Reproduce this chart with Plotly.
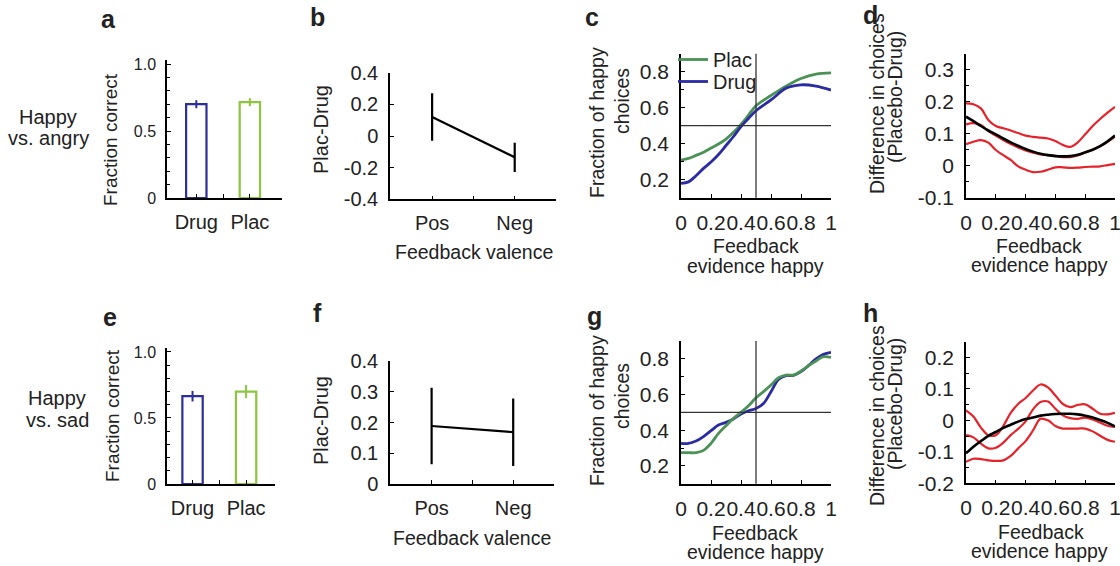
import plotly.graph_objects as go

W, H = 1120, 566
FONT = "Liberation Sans, Arial, sans-serif"

# ---------------- data ----------------
groups = ["Drug", "Plac"]
angry_correct = [0.70, 0.715]
angry_err = [0.03, 0.03]
sad_correct = [0.665, 0.70]
sad_err = [0.04, 0.05]

valence = ["Pos", "Neg"]
angry_diff = [0.12, -0.135]
angry_diff_err = [0.15, 0.093]
sad_diff = [0.189, 0.169]
sad_diff_err = [0.125, 0.11]

ev_c = [0, 0.05, 0.1, 0.15, 0.2, 0.25, 0.3, 0.35, 0.4, 0.45, 0.5, 0.6, 0.7, 0.8, 0.9, 1.0]
angry_plac = [0.309, 0.318, 0.335, 0.352, 0.376, 0.398, 0.426, 0.463, 0.507, 0.559, 0.611, 0.668, 0.72, 0.762, 0.787, 0.794]
angry_drug = [0.18, 0.188, 0.222, 0.263, 0.298, 0.34, 0.39, 0.44, 0.495, 0.54, 0.583, 0.643, 0.708, 0.727, 0.72, 0.698]

ev = [0, 0.05, 0.1, 0.15, 0.2, 0.25, 0.3, 0.35, 0.4, 0.45, 0.5,
      0.55, 0.6, 0.65, 0.7, 0.75, 0.8, 0.85, 0.9, 0.95, 1.0]
sad_drug = [0.326, 0.326, 0.339, 0.364, 0.397, 0.429, 0.444, 0.463, 0.491, 0.509, 0.522,
            0.55, 0.616, 0.685, 0.706, 0.707, 0.728, 0.762, 0.80, 0.825, 0.836]
sad_plac = [0.274, 0.274, 0.274, 0.287, 0.326, 0.382, 0.425, 0.466, 0.50, 0.537, 0.582,
            0.616, 0.653, 0.694, 0.709, 0.709, 0.732, 0.762, 0.788, 0.812, 0.808]

angry_upper = [0.195, 0.192, 0.179, 0.143, 0.124, 0.117, 0.110, 0.102, 0.094, 0.090, 0.0875,
               0.085, 0.077, 0.065, 0.059, 0.073, 0.098, 0.124, 0.146, 0.166, 0.184]
angry_mid = [0.129, 0.133, 0.127, 0.108, 0.094, 0.080, 0.068, 0.057, 0.048, 0.041, 0.035,
             0.033, 0.031, 0.027, 0.027, 0.032, 0.041, 0.050, 0.061, 0.075, 0.091]
angry_lower = [0.067, 0.075, 0.080, 0.072, 0.049, 0.033, 0.018, -0.002, -0.0125, -0.020, -0.019,
               -0.0125, -0.005, -0.005, -0.007, -0.006, -0.004, -0.003, -0.002, 0.002, 0.006]
angry_fit = [0.153, 0.139, 0.124, 0.110, 0.098, 0.085, 0.073, 0.0625, 0.052, 0.044, 0.0375,
             0.033, 0.030, 0.029, 0.030, 0.034, 0.042, 0.050, 0.061, 0.076, 0.094]

sad_upper = [0.032, 0.012, -0.023, -0.047, -0.047, -0.018, 0.024, 0.052, 0.071, 0.095, 0.114,
             0.105, 0.079, 0.052, 0.042, 0.049, 0.051, 0.037, 0.021, 0.019, 0.024]
sad_mid = [-0.047, -0.054, -0.074, -0.089, -0.087, -0.071, -0.047, -0.027, -0.003, 0.035, 0.058,
           0.060, 0.037, 0.016, 0.007, 0.005, 0.009, 0.003, -0.007, -0.017, -0.021]
sad_lower = [-0.132, -0.122, -0.123, -0.127, -0.129, -0.127, -0.113, -0.089, -0.066, -0.032, 0.005,
             0.0, -0.018, -0.026, -0.026, -0.026, -0.026, -0.035, -0.049, -0.062, -0.068]
sad_fit = [-0.105, -0.084, -0.066, -0.049, -0.037, -0.024, -0.014, -0.004, 0.004, 0.009, 0.015,
           0.018, 0.020, 0.021, 0.021, 0.019, 0.015, 0.009, 0.001, -0.008, -0.019]

CHANCE = 0.5
MID_EVIDENCE = 0.5

# ---------------- style ----------------
BLUE = "#2c2f9a"
LGREEN = "#8cc63f"
DGREEN = "#4a9255"
CBLUE = "#2b2ba3"
RED = "#e5232b"
TXT = "#222222"

fig = go.Figure()

def dx(l, r):
    return [l / W, r / W]

def dy(top, bottom):
    return [1 - bottom / H, 1 - top / H]

def axis_common(**kw):
    d = dict(showline=True, linecolor="black", linewidth=1.5, ticks="inside",
             ticklen=4, tickcolor="black", tickwidth=1.2, showgrid=False,
             zeroline=False, fixedrange=True, automargin=False, tickangle=0,
             ticklabeloverflow="allow")
    d.update(kw)
    return d

layout_axes = {}

def set_axes(i, xdom, ydom, xr, yr, xtv, xtt, ytv, ytt, xfs, yfs, yminor=None):
    xn = "xaxis" if i == 1 else f"xaxis{i}"
    yn = "yaxis" if i == 1 else f"yaxis{i}"
    xa = "x" if i == 1 else f"x{i}"
    ya = "y" if i == 1 else f"y{i}"
    xd = axis_common(domain=xdom, range=xr, anchor=ya, tickvals=xtv, ticktext=xtt,
                     ticklabelstandoff=5,
                     tickfont=dict(family=FONT, color=TXT, size=xfs))
    yd = axis_common(domain=ydom, range=yr, anchor=xa, tickvals=ytv, ticktext=ytt,
                     ticklabelstandoff=6,
                     tickfont=dict(family=FONT, color=TXT, size=yfs))
    if yminor:
        yd["minor"] = dict(dtick=yminor[0], tick0=yminor[1], ticks="inside", ticklen=3,
                           tickcolor="black", showgrid=False)
    layout_axes[xn] = xd
    layout_axes[yn] = yd
    return xa, ya

# ---- a & e bars ----
for idx, (vals, errs, xdom, ydom, xr) in enumerate([
        (angry_correct, angry_err, dx(167, 282), dy(60, 198), [0.453, 2.6]),
        (sad_correct, sad_err, dx(167, 275), dy(348, 484), [0.523, 2.54])]):
    i = 1 if idx == 0 else 5
    xa, ya = set_axes(i, xdom, ydom, xr, [0, 1.03], [1, 1.5, 2], ["Drug", "", "Plac"],
                      [0, 0.5, 1.0], ["0", "0.5", "1.0"], 20, 16, yminor=(0.1, 0))
    for k, col in enumerate([BLUE, LGREEN]):
        fig.add_trace(go.Bar(x=[k + 1], y=[vals[k]], width=0.38, xaxis=xa, yaxis=ya,
                             marker=dict(color="white", line=dict(color=col, width=2.2)),
                             error_y=dict(type="data", array=[errs[k]], color=col,
                                          thickness=2, width=0),
                             showlegend=False, name=groups[k]))

# ---- b & f ----
for idx, (vals, errs, xdom, ydom, yr, ytv, ytt) in enumerate([
        (angry_diff, angry_diff_err, dx(390, 556), dy(72.7, 199.3), [-0.4, 0.4],
         [-0.4, -0.2, 0, 0.2, 0.4], ["-0.4", "-0.2", "0", "0.2", "0.4"]),
        (sad_diff, sad_diff_err, dx(390, 554), dy(361.3, 484), [0, 0.4],
         [0, 0.1, 0.2, 0.3, 0.4], ["0", "0.1", "0.2", "0.3", "0.4"])]):
    i = 2 if idx == 0 else 6
    xa, ya = set_axes(i, xdom, ydom, [0.49, 2.5], yr, [1, 1.5, 2], ["Pos", "", "Neg"],
                      ytv, ytt, 20, 20)
    fig.add_trace(go.Scatter(x=[1, 2], y=vals, mode="lines", xaxis=xa, yaxis=ya,
                             line=dict(color="black", width=2.2),
                             error_y=dict(type="data", array=errs, color="black",
                                          thickness=2.2, width=0),
                             showlegend=False))

# ---- c & g ----
ev_ticks = [0, 0.2, 0.4, 0.6, 0.8, 1.0]
ev_text = ["0", "0.2", "0.4", "0.6", "0.8", "1"]
for idx, (xs, plac, drug, ydom) in enumerate([
        (ev_c, angry_plac, angry_drug, dy(53.7, 197.7)),
        (ev, sad_plac, sad_drug, dy(341, 483.7))]):
    i = 3 if idx == 0 else 7
    xa, ya = set_axes(i, dx(681, 831), ydom, [0, 1], [0.1, 0.9], ev_ticks, ev_text,
                      [0.2, 0.4, 0.6, 0.8], ["0.2", "0.4", "0.6", "0.8"], 21, 21,
                      yminor=(0.1, 0.1))
    fig.add_shape(type="line", xref=xa, yref=f"{ya} domain", x0=MID_EVIDENCE, x1=MID_EVIDENCE,
                  y0=0, y1=1, line=dict(color="#333", width=1.3))
    fig.add_shape(type="line", xref=f"{xa} domain", yref=ya, x0=0, x1=1, y0=CHANCE, y1=CHANCE,
                  line=dict(color="#333", width=1.3))
    order = [("Plac", plac, DGREEN, "legend"), ("Drug", drug, CBLUE, "legend2")]
    if idx == 1:
        order = order[::-1]
    for name, series, col, lg in order:
        fig.add_trace(go.Scatter(x=xs, y=series, mode="lines", xaxis=xa, yaxis=ya, name=name,
                                 line=dict(color=col, width=2.8, shape="spline"),
                                 showlegend=(idx == 0), legend=lg))

# ---- d & h ----
for idx, (up, mid, lo, fit, ydom, yr, ytv, ytt) in enumerate([
        (angry_upper, angry_mid, angry_lower, angry_fit, dy(53.7, 197.7), [-0.1, 0.35],
         [-0.1, 0, 0.1, 0.2, 0.3], ["-0.1", "0", "0.1", "0.2", "0.3"]),
        (sad_upper, sad_mid, sad_lower, sad_fit, dy(341.7, 483.3), [-0.2, 0.25],
         [-0.2, -0.1, 0, 0.1, 0.2], ["-0.2", "-0.1", "0", "0.1", "0.2"])]):
    i = 4 if idx == 0 else 8
    xa, ya = set_axes(i, dx(966, 1115), ydom, [0, 1], yr, ev_ticks, ev_text, ytv, ytt, 21, 21,
                      yminor=(0.05, 0))
    for series in (up, mid, lo):
        fig.add_trace(go.Scatter(x=ev, y=series, mode="lines", xaxis=xa, yaxis=ya,
                                 line=dict(color=RED, width=2.2, shape="spline"),
                                 showlegend=False))
    fig.add_trace(go.Scatter(x=ev, y=fit, mode="lines", xaxis=xa, yaxis=ya,
                             line=dict(color="black", width=2.6, shape="spline"),
                             showlegend=False))

# ---------------- annotations ----------------
ann = []

def text(x, y, s, size=20, angle=0, bold=False, xanchor="center", yanchor="middle"):
    ann.append(dict(x=x / W, y=1 - y / H, xref="paper", yref="paper",
                    text=f"<b>{s}</b>" if bold else s,
                    showarrow=False, textangle=angle, xanchor=xanchor, yanchor=yanchor,
                    font=dict(family=FONT, size=size, color=TXT)))

# panel letters
for s, x, y in [("a", 108, 19), ("b", 317, 17), ("c", 592, 17), ("d", 870, 15),
                ("e", 110, 317), ("f", 317, 313), ("g", 594, 316), ("h", 870, 313)]:
    text(x, y, s, size=25, bold=True)

# row labels
text(48, 117, "Happy", 20)
text(48, 138, "vs. angry", 20)
text(57, 398, "Happy", 20)
text(57, 420, "vs. sad", 20)

# y titles
text(110, 140, "Fraction correct", 19, angle=-90)
text(112, 416, "Fraction correct", 19, angle=-90)
text(321, 130, "Plac-Drug", 20, angle=-90)
text(321, 421, "Plac-Drug", 20, angle=-90)
text(597, 123, "Fraction of happy", 19.5, angle=-90)
text(622, 101, "choices", 19.5, angle=-90)
text(597, 411, "Fraction of happy", 19.5, angle=-90)
text(622, 396, "choices", 19.5, angle=-90)
text(877, 104, "Difference in choices", 19.5, angle=-90)
text(895, 97, "(Placebo-Drug)", 19.5, angle=-90)
text(877, 416, "Difference in choices", 19.5, angle=-90)
text(895, 404, "(Placebo-Drug)", 19.5, angle=-90)

# x titles
text(474, 252, "Feedback valence", 19.5)
text(472, 538, "Feedback valence", 19.5)
text(756, 246, "Feedback", 19.5)
text(755, 266, "evidence happy", 19.5)
text(755, 533, "Feedback", 19.5)
text(755, 552, "evidence happy", 19.5)
text(1039, 246, "Feedback", 19.5)
text(1039, 265, "evidence happy", 19.5)
text(1041, 532, "Feedback", 19.5)
text(1039, 551, "evidence happy", 19.5)

leg_common = dict(xanchor="left", yanchor="top", bgcolor="rgba(0,0,0,0)",
                  font=dict(family=FONT, size=20, color=TXT), itemwidth=30,
                  tracegroupgap=0, borderwidth=0)

fig.update_layout(
    width=W, height=H, margin=dict(l=0, r=0, t=0, b=0, pad=0, autoexpand=False),
    paper_bgcolor="white", plot_bgcolor="rgba(0,0,0,0)",
    font=dict(family=FONT, color=TXT),
    barmode="overlay",
    showlegend=True,
    legend=dict(x=673 / W, y=1 - 40 / H, **leg_common),
    legend2=dict(x=673 / W, y=1 - 62 / H, **leg_common),
    annotations=ann,
    **layout_axes,
)

fig.write_html("out.html", config={"displayModeBar": False},
               post_script="document.body.style.margin='0px';")
